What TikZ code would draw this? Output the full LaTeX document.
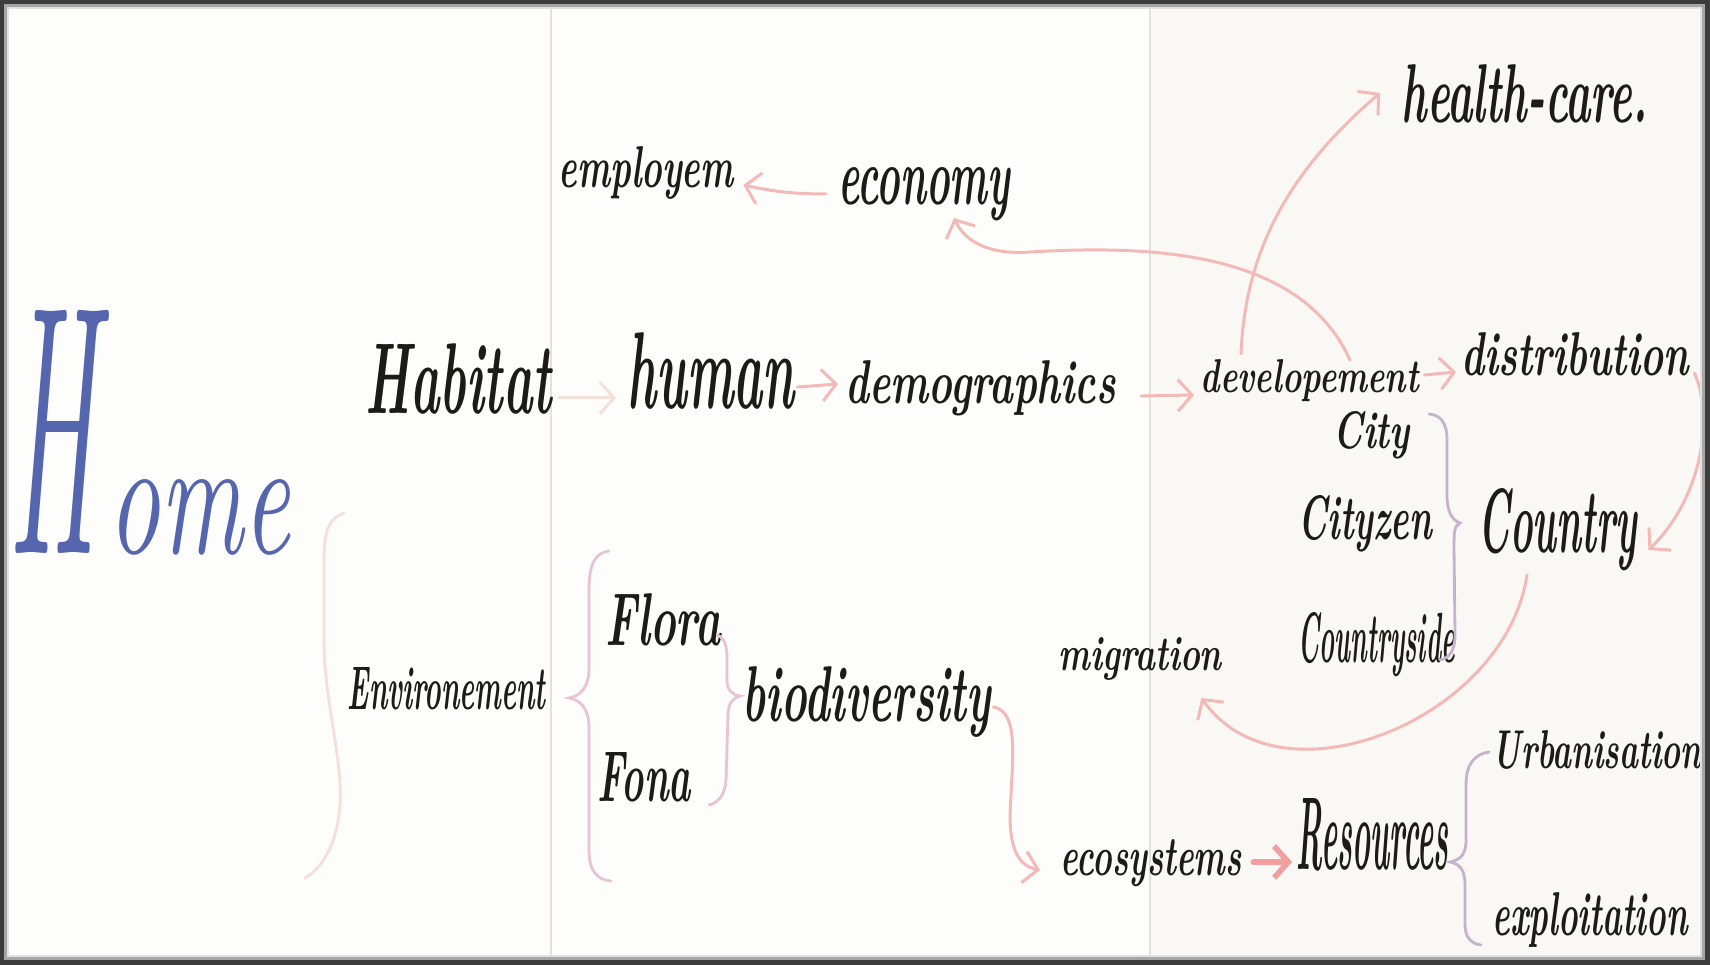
\documentclass[tikz,border=0pt]{standalone}
\usepackage{graphicx}
\usetikzlibrary{arrows.meta}

\definecolor{paper}{HTML}{FDFDFB}
\definecolor{paperR}{HTML}{F9F8F5}
\definecolor{fold}{HTML}{E4E1DB}
\definecolor{ink}{HTML}{1C1C16}
\definecolor{homeblue}{HTML}{5566AE}
\definecolor{arrowpink}{HTML}{F4B9B6}
\definecolor{faintpink}{HTML}{F6DEDA}
\definecolor{strongpink}{HTML}{F29E9E}
\definecolor{bracepink}{HTML}{E9C2D6}
\definecolor{bracelilac}{HTML}{C7B2CE}
\definecolor{framegray}{HTML}{3C3C3C}

% one pixel of the page
\newlength\pxu
\setlength\pxu{0.01cm}
% handwritten word: width, height above baseline, text
\newcommand{\hw}[3]{\resizebox{#1\pxu}{#2\pxu}{\bfseries\itshape #3}}

\tikzset{
  word/.style={inner sep=0pt, anchor=base west, text=ink},
  link/.style={draw=arrowpink, line width=0.85pt, line cap=round,
               -{Straight Barb[length=4pt,width=9pt,line width=0.85pt]}},
  brace/.style={draw=bracepink, line width=0.8pt, line cap=round},
}

\begin{document}
\begin{tikzpicture}[x=0.01cm,y=-0.01cm]
\useasboundingbox (0,0) rectangle (1710,965);

% paper and its folds
\fill[paper] (0,0) rectangle (1710,965);
\fill[paperR] (1150,0) rectangle (1710,965);
\draw[fold, line width=0.5pt] (551,0) -- (551,965);
\draw[fold, line width=0.5pt] (1150,0) -- (1150,965);

% title word
\node[inner sep=0pt, anchor=base west, text=homeblue] (home) at (8,554)
  {\resizebox{88\pxu}{243\pxu}{\itshape H}\hspace{12\pxu}\resizebox{181\pxu}{74\pxu}{\itshape ome}};

% words
\node[word] (healthcare)   at (1401,123) {\hw{246}{58}{health-care.}};
\node[word] (employem)     at (558,188)  {\hw{175}{41}{employem}};
\node[word] (economy)      at (838,205)  {\hw{171}{37}{economy}};
\node[word] (habitat)      at (365,414)  {\hw{186}{70}{Habitat}};
\node[word] (human)        at (627,409)  {\hw{167}{76}{human}};
\node[word] (demographics) at (845,404)  {\hw{270}{43}{demographics}};
\node[word] (developement) at (1200,393) {\hw{218}{33}{developement}};
\node[word] (distribution) at (1461,376) {\hw{227}{43}{distribution}};
\node[word] (city)         at (1333,449) {\hw{76}{37}{City}};
\node[word] (cityzen)      at (1298,540) {\hw{133}{44}{Cityzen}};
\node[word] (country)      at (1478,553) {\hw{158}{64}{Country}};
\node[word] (countryside)  at (1298,663) {\hw{156}{50}{Countryside}};
\node[word] (migration)    at (1058,671) {\hw{163}{33}{migration}};
\node[word] (environement) at (347,709)  {\hw{198}{42}{Environement}};
\node[word] (flora)        at (605,646)  {\hw{115}{52}{Flora}};
\node[word] (biodiversity) at (742,722)  {\hw{248}{55}{biodiversity}};
\node[word] (fona)         at (597,802)  {\hw{93}{49}{Fona}};
\node[word] (ecosystems)   at (1060,876) {\hw{181}{36}{ecosystems}};
\node[word] (resources)    at (1296,869) {\hw{152}{71}{Resources}};
\node[word] (urbanisation) at (1492,769) {\hw{209}{38}{Urbanisation}};
\node[word] (exploitation) at (1492,935) {\hw{195}{43}{exploitation}};

% straight links along the middle row
\draw[link, draw=faintpink] ([shift={(7,-16)}]habitat.base east) -- ([shift={(-11,-11)}]human.base west);
\draw[link] ([shift={(2,-22)}]human.base east) -- ([shift={(-7,-20)}]demographics.base west);
\draw[link] ([shift={(25,-8)}]demographics.base east) -- ([shift={(-6,2)}]developement.base west);
\draw[link] ([shift={(5,-18)}]developement.base east) -- ([shift={(-5,-4)}]distribution.base west);
\draw[link] ([shift={(-12,-11)}]economy.base west) to[bend left=6] ([shift={(9,-3)}]employem.base east);

% curved links
\draw[link] ([shift={(150,-33)}]developement.base west)
  .. controls (1300,250) and (1150,245) .. (1030,252)
  .. controls (990,255) and (965,242) .. ([shift={(116,13)}]economy.base west);
\draw[link] ([shift={(41,-39)}]developement.base west)
  .. controls (1245,250) and (1290,170) .. ([shift={(-21,-30)}]healthcare.base west);
\draw[link] ([shift={(5,-3)}]distribution.base east)
  .. controls (1715,420) and (1700,500) .. ([shift={(11,-3)}]country.base east);
\draw[link] ([shift={(49,22)}]country.base west)
  .. controls (1505,720) and (1280,810) .. ([shift={(-21,27)}]migration.base east);
\draw[link] ([shift={(2,-15)}]biodiversity.base east)
  .. controls (1020,712) and (1012,760) .. (1010,815)
  .. controls (1010,848) and (1018,866) .. ([shift={(-20,-6)}]ecosystems.base west);
\draw[link, draw=strongpink, line width=1.6pt,
      -{Straight Barb[length=4pt,width=9pt,line width=1.6pt]}]
  ([shift={(11,-14)}]ecosystems.base east) -- ([shift={(-4,-7)}]resources.base west);

% braces
\draw[brace, draw=faintpink] (344,513) .. controls (330,518) and (324,528) .. (324,560)
  -- (324,640) .. controls (324,700) and (343,760) .. (340,805)
  .. controls (337,845) and (322,868) .. (305,878);
\draw[brace] (609,551) .. controls (596,553) and (589,562) .. (589,590)
  -- (589,668) .. controls (589,688) and (580,696) .. (569,698)
  .. controls (580,700) and (589,708) .. (589,728)
  -- (589,850) .. controls (589,872) and (598,880) .. (611,881);
\draw[brace] (717,635) .. controls (725,638) and (727,646) .. (727,660)
  -- (727,680) .. controls (727,690) and (732,695) .. (740,696)
  .. controls (732,698) and (728,704) .. (728,715)
  -- (726,780) .. controls (725,795) and (718,803) .. (709,805);
\draw[brace, draw=bracelilac] (1429,414) .. controls (1440,415) and (1447,422) .. (1447,440)
  -- (1447,495) .. controls (1447,512) and (1452,520) .. (1460,523)
  .. controls (1454,526) and (1454,532) .. (1454,548)
  -- (1455,635) .. controls (1455,650) and (1450,658) .. (1440,660);
\draw[brace, draw=bracelilac] (1489,752) .. controls (1476,754) and (1466,762) .. (1466,785)
  -- (1466,840) .. controls (1466,855) and (1460,860) .. (1450,862)
  .. controls (1460,864) and (1465,870) .. (1465,885)
  -- (1465,925) .. controls (1465,938) and (1472,944) .. (1481,945);

% photo frame
\fill[framegray, even odd rule] (0,0) rectangle (1710,965) (4,4) rectangle (1705,960);
\draw[black!35, line width=0.6pt] (5.5,5.5) rectangle (1703.5,958.5);
\draw[black!12, line width=0.8pt] (8,8) rectangle (1701,956);
\end{tikzpicture}
\end{document}
